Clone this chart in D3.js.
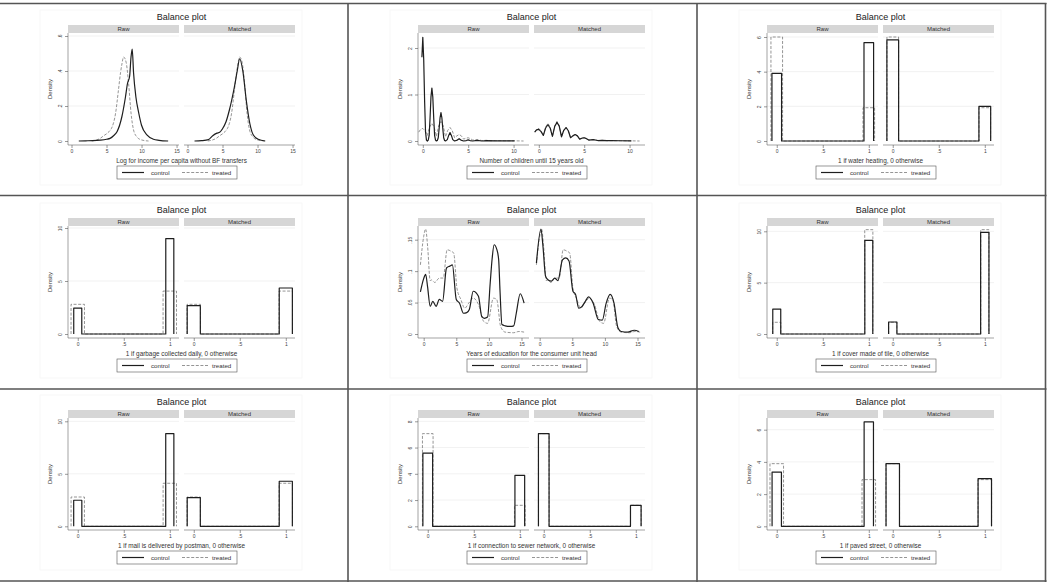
<!DOCTYPE html>
<html><head><meta charset="utf-8">
<script src="https://cdn.jsdelivr.net/npm/d3@7"></script>
<style>html,body{margin:0;padding:0;background:#fff}svg{display:block}text{font-family:"Liberation Sans",Arial,sans-serif}</style>
</head><body><svg id="c" width="1050" height="582"></svg>
<script>
// ---------------- DATA ----------------
const chartTitle = "Balance plot";
const facetNames = ["Raw", "Matched"];
const seriesNames = ["control", "treated"];
const xTitles = [
  "Log for income per capita without BF transfers",
  "Number of children until 15 years old",
  "1 if water heating, 0 otherwise",
  "1 if garbage collected daily, 0 otherwise",
  "Years of education for the consumer unit head",
  "1 if cover made of tile, 0 otherwise",
  "1 if mail is delivered by postman, 0 otherwise",
  "1 if connection to sewer network, 0 otherwise",
  "1 if paved street, 0 otherwise"
];
// tick values
const incomeXTicks = [0, 5, 10, 15];
const incomeYTicks = [0, 0.2, 0.4, 0.6];
const childrenXTicks = [0, 5, 10];
const childrenYTicks = [0, 1, 2];
const eduXTicks = [0, 5, 10, 15];
const eduYTicks = [0, 0.05, 0.1, 0.15];
const binaryXTicks = [0, 0.5, 1];
const waterYTicks = [0, 2, 4, 6];
const garbageYTicks = [0, 5, 10];
const tileYTicks = [0, 5, 10];
const mailYTicks = [0, 5, 10];
const sewerYTicks = [0, 2, 4, 6, 8];
const pavedYTicks = [0, 2, 4, 6];

// kernel densities [x, density]
const incomeControlRaw = [[1.04,0],[2,0.001],[3,0.002],[4.1,0.005],[5,0.01],[5.5,0.015],[6,0.03],[6.5,0.053],[7.2,0.14],[7.7,0.25],[8.0,0.33],[8.3,0.37],[8.5,0.48],[8.67,0.525],[8.86,0.39],[9.2,0.25],[9.6,0.16],[10,0.09],[10.8,0.034],[11.7,0.01],[12.5,0.004],[13.8,0]];
const incomeControlMatched = [[1.0,0],[2,0.002],[3,0.008],[3.6,0.03],[4.2,0.045],[4.6,0.05],[5.0,0.07],[5.5,0.11],[6.0,0.18],[6.7,0.31],[7.1,0.4],[7.45,0.47],[7.9,0.4],[8.4,0.23],[8.9,0.1],[9.4,0.034],[10.1,0.01],[11.1,0]];
const incomeTreated = [[2.9,0],[3.5,0.005],[4.1,0.015],[4.6,0.03],[5.1,0.044],[5.5,0.06],[5.8,0.08],[6.3,0.16],[6.7,0.29],[7.0,0.39],[7.2,0.44],[7.44,0.48],[7.8,0.45],[8.15,0.33],[8.5,0.16],[8.86,0.063],[9.3,0.025],[10,0.006],[11,0]];

const childrenControlRaw = [[-0.1,1.8],[0.0,2.23],[0.1,1.75],[0.2,0.85],[0.3,0.2],[0.4,0.02],[0.5,0.0],[0.6,0.02],[0.7,0.12],[0.8,0.5],[0.9,0.95],[1.0,1.14],[1.1,0.95],[1.2,0.5],[1.3,0.12],[1.4,0.02],[1.5,0.0],[1.6,0.01],[1.7,0.07],[1.8,0.27],[1.9,0.5],[2.0,0.61],[2.1,0.5],[2.2,0.27],[2.3,0.07],[2.4,0.01],[2.5,0.0],[2.7,0.03],[2.85,0.12],[3.0,0.18],[3.15,0.12],[3.3,0.03],[3.5,0.0],[3.8,0.02],[4.0,0.05],[4.2,0.02],[4.5,0.0],[4.8,0.01],[5.0,0.025],[5.2,0.01],[5.5,0.0],[6.0,0.012],[6.5,0.0],[7.0,0.008],[8.0,0.004],[9.0,0.003],[10.1,0.002]];
const childrenControlMatched = [[-0.45,0.19],[-0.25,0.24],[0.0,0.25],[0.25,0.2],[0.5,0.12],[0.75,0.28],[1.0,0.35],[1.25,0.28],[1.5,0.1],[1.75,0.31],[2.0,0.4],[2.25,0.32],[2.5,0.09],[2.75,0.23],[3.0,0.29],[3.25,0.22],[3.5,0.07],[3.75,0.11],[4.0,0.14],[4.25,0.11],[4.5,0.04],[4.75,0.06],[5.0,0.07],[5.25,0.05],[5.5,0.02],[6.0,0.03],[6.5,0.01],[7.0,0.015],[7.5,0.006],[8.0,0.008],[9.0,0.005],[10.2,0.003]];
const childrenTreated = [[-0.45,0.19],[-0.25,0.25],[0.0,0.27],[0.25,0.22],[0.5,0.12],[0.75,0.3],[1.0,0.38],[1.25,0.3],[1.5,0.1],[1.75,0.33],[2.0,0.42],[2.25,0.33],[2.5,0.09],[2.75,0.23],[3.0,0.29],[3.25,0.22],[3.5,0.07],[3.75,0.11],[4.0,0.14],[4.25,0.11],[4.5,0.04],[4.75,0.06],[5.0,0.07],[5.25,0.05],[5.5,0.02],[6.0,0.03],[6.5,0.01],[7.0,0.015],[7.5,0.006],[8.0,0.008],[9.0,0.005],[10.0,0.004],[11.1,0.0]];

const eduControlRaw = [[-0.5,0.067],[0.0,0.088],[0.3,0.095],[0.6,0.075],[1.0,0.044],[1.4,0.052],[1.9,0.044],[2.4,0.055],[2.9,0.052],[3.5,0.105],[4.0,0.108],[4.4,0.11],[5.0,0.055],[5.5,0.049],[6.1,0.033],[6.6,0.034],[7.0,0.039],[7.6,0.068],[8.4,0.06],[8.9,0.028],[9.3,0.025],[9.8,0.027],[10.2,0.081],[10.5,0.12],[10.8,0.142],[11.2,0.135],[11.5,0.118],[11.7,0.07],[12.0,0.015],[12.5,0.013],[13.3,0.012],[13.8,0.013],[14.2,0.033],[14.8,0.064],[15.4,0.049]];
const eduControlMatched = [[-0.5,0.113],[0.2,0.167],[0.5,0.14],[0.9,0.092],[1.3,0.086],[1.8,0.084],[2.3,0.089],[2.8,0.085],[3.5,0.118],[4.0,0.121],[4.5,0.116],[5.1,0.068],[5.5,0.063],[6.0,0.041],[6.5,0.044],[7.0,0.052],[7.5,0.059],[8.2,0.049],[9.0,0.023],[9.6,0.022],[10.2,0.049],[10.8,0.063],[11.4,0.049],[12.0,0.01],[12.5,0.004],[13.5,0.003],[14.5,0.006],[15.2,0.004]];
const eduTreated = [[-0.5,0.11],[0.0,0.155],[0.3,0.167],[0.6,0.14],[1.0,0.085],[1.2,0.086],[1.7,0.082],[2.4,0.089],[3.0,0.089],[3.6,0.134],[4.3,0.131],[4.6,0.129],[5.1,0.073],[5.7,0.055],[6.3,0.041],[6.9,0.049],[7.6,0.057],[8.4,0.047],[9.2,0.02],[9.8,0.017],[10.7,0.057],[11.2,0.055],[11.8,0.012],[12.5,0.003],[13.8,0.002],[14.6,0.004],[15.4,0.003]];

// histogram densities of binary variables: [density at 0, density at 1]
const waterControlRaw = [3.9, 5.67],   waterControlMatched = [5.83, 2.0],  waterTreated = [6.0, 1.92];
const garbageControlRaw = [2.45, 9.0], garbageControlMatched = [2.67, 4.34], garbageTreated = [2.8, 4.05];
const tileControlRaw = [2.43, 9.12],   tileControlMatched = [1.17, 9.9],  tileTreated = [1.14, 10.16];
const mailControlRaw = [2.48, 8.83],   mailControlMatched = [2.73, 4.29], mailTreated = [2.79, 4.1];
const sewerControlRaw = [5.58, 3.88],  sewerControlMatched = [7.06, 1.6], sewerTreated = [7.06, 1.6];
const pavedControlRaw = [3.37, 6.48],  pavedControlMatched = [3.89, 2.96], pavedTreated = [3.89, 2.9];

// ---------------- LAYOUT ----------------
const colX = [0, 350, 699];
const rowY = [0, 193, 385];
const FACET_X = [[68, 179], [184, 295]];
const BIN_DOM = [-0.106, 1.1];
const panels = [
  {col:0,row:0,kind:"kde",xDomain:[-0.5,15.35],xTicks:incomeXTicks,yTicks:incomeYTicks,yZero:141,yTop:36,raw:[incomeControlRaw,incomeTreated],matched:[incomeControlMatched,incomeTreated],curve:d3.curveMonotoneX},
  {col:1,row:0,kind:"kde",xDomain:[-0.53,11.7],xTicks:childrenXTicks,yTicks:childrenYTicks,yZero:141,yTop:48,raw:[childrenControlRaw,childrenTreated],matched:[childrenControlMatched,childrenTreated],curve:d3.curveLinear},
  {col:2,row:0,kind:"bin",xDomain:BIN_DOM,xTicks:binaryXTicks,yTicks:waterYTicks,yZero:141,yTop:37,raw:[waterControlRaw,waterTreated],matched:[waterControlMatched,waterTreated]},
  {col:0,row:1,kind:"bin",xDomain:BIN_DOM,xTicks:binaryXTicks,yTicks:garbageYTicks,yZero:141,yTop:35,raw:[garbageControlRaw,garbageTreated],matched:[garbageControlMatched,garbageTreated]},
  {col:1,row:1,kind:"kde",xDomain:[-0.87,16.15],xTicks:eduXTicks,yTicks:eduYTicks,yZero:141,yTop:46.7,raw:[eduControlRaw,eduTreated],matched:[eduControlMatched,eduTreated],curve:d3.curveMonotoneX},
  {col:2,row:1,kind:"bin",xDomain:BIN_DOM,xTicks:binaryXTicks,yTicks:tileYTicks,yZero:141,yTop:38.3,raw:[tileControlRaw,tileTreated],matched:[tileControlMatched,tileTreated]},
  {col:0,row:2,kind:"bin",xDomain:BIN_DOM,xTicks:binaryXTicks,yTicks:mailYTicks,yZero:141.3,yTop:36.3,raw:[mailControlRaw,mailTreated],matched:[mailControlMatched,mailTreated]},
  {col:1,row:2,kind:"bin",xDomain:BIN_DOM,xTicks:binaryXTicks,yTicks:sewerYTicks,yZero:141.3,yTop:36.3,raw:[sewerControlRaw,sewerTreated],matched:[sewerControlMatched,sewerTreated]},
  {col:2,row:2,kind:"bin",xDomain:BIN_DOM,xTicks:binaryXTicks,yTicks:pavedYTicks,yZero:141.3,yTop:44.7,raw:[pavedControlRaw,pavedTreated],matched:[pavedControlMatched,pavedTreated]}
];
panels.forEach((p,i)=>p.xlab = xTitles[i]);

const fmt = d => d === 0 ? "0" : String(d).replace(/^0\./, ".");
const STYLE = [
  {stroke:"#1e1e1e", width:1.2, dash:null},
  {stroke:"#7a7a7a", width:0.8, dash:"3,1.6"}
];

const svg = d3.select("#c");
svg.append("rect").attr("width",1050).attr("height",582).attr("fill","#fff");

function binPoints(v) {
  const hw = 0.5 / (v[0] + v[1]);
  return [[-hw,0],[-hw,v[0]],[hw,v[0]],[hw,0],[1-hw,0],[1-hw,v[1]],[1+hw,v[1]],[1+hw,0]];
}

function drawPanel(p) {
  const g = svg.append("g").attr("transform", `translate(${colX[p.col]},${rowY[p.row]})`);
  g.append("rect").attr("x",40).attr("y",10).attr("width",262).attr("height",175)
    .attr("fill","none").attr("stroke","#f6f6f6").attr("stroke-width",0.8);
  g.append("text").attr("x",181.5).attr("y",20.3).attr("text-anchor","middle")
    .attr("font-size",9).attr("fill","#222").text(chartTitle);
  const yTopVal = p.yTicks[p.yTicks.length - 1];
  const y = d3.scaleLinear().domain([0, yTopVal]).range([p.yZero, p.yTop]);

  [p.raw, p.matched].forEach((series, i) => {
    const [fx0, fx1] = FACET_X[i];
    const x = d3.scaleLinear().domain(p.xDomain).range([fx0, fx1]);
    g.append("rect").attr("x",fx0).attr("y",25).attr("width",fx1-fx0).attr("height",8).attr("fill","#d6d6d6");
    g.append("text").attr("x",(fx0+fx1)/2).attr("y",31.1).attr("text-anchor","middle")
      .attr("font-size",6).attr("fill","#333").text(facetNames[i]);
    g.append("g").selectAll("line").data(p.yTicks.filter(t => t !== 0)).join("line")
      .attr("x1",fx0).attr("x2",fx1).attr("y1",d=>y(d)).attr("y2",d=>y(d))
      .attr("stroke","#e8e8e8").attr("stroke-width",0.6);
    const ax = g.append("g").attr("transform","translate(0,145)")
      .call(d3.axisBottom(x).tickValues(p.xTicks).tickFormat(fmt).tickSize(3).tickSizeOuter(0).tickPadding(1));
    ax.select(".domain").attr("d", `M${fx0},0H${fx1}`).attr("stroke","#666").attr("stroke-width",0.6);
    ax.selectAll(".tick line").attr("stroke","#555").attr("stroke-width",0.6);
    ax.selectAll(".tick text").attr("font-size",5).attr("fill","#444").attr("font-family","Liberation Sans, Arial, sans-serif");
    const line = d3.line().x(d=>x(d[0])).y(d=>y(d[1])).curve(p.kind === "kde" ? p.curve : d3.curveLinear);
    [1, 0].forEach(si => {
      const pts = p.kind === "kde" ? series[si] : binPoints(series[si]);
      g.append("path").datum(pts).attr("d", line).attr("fill","none")
        .attr("stroke", STYLE[si].stroke).attr("stroke-width", STYLE[si].width)
        .attr("stroke-dasharray", STYLE[si].dash).attr("stroke-linejoin","round");
    });
  });

  const ya = g.append("g").attr("transform",`translate(${FACET_X[0][0]},0)`)
    .call(d3.axisLeft(y).tickValues(p.yTicks).tickFormat(fmt).tickSize(3).tickSizeOuter(0).tickPadding(1));
  ya.select(".domain").attr("d","M0,33V145").attr("stroke","#666").attr("stroke-width",0.6);
  ya.selectAll(".tick line").attr("stroke","#555").attr("stroke-width",0.6);
  ya.selectAll(".tick text").attr("x",null).attr("dy",null)
    .attr("transform","translate(-5.6,0) rotate(-90)").attr("text-anchor","middle")
    .attr("font-size",5).attr("fill","#444").attr("font-family","Liberation Sans, Arial, sans-serif");
  g.append("text").attr("transform","translate(52.2,89) rotate(-90)").attr("text-anchor","middle")
    .attr("font-size",6).attr("fill","#333").text("Density");

  g.append("text").attr("x",181.5).attr("y",163.4).attr("text-anchor","middle")
    .attr("font-size",6.4).attr("fill","#333").text(p.xlab);

  const lg = g.append("g");
  lg.append("rect").attr("x",117).attr("y",166).attr("width",120).attr("height",13)
    .attr("fill","#fff").attr("stroke","#555").attr("stroke-width",0.6);
  const lx = [[122,144,151],[182,208,212]];
  seriesNames.forEach((s, i) => {
    lg.append("line").attr("x1",lx[i][0]).attr("x2",lx[i][1]).attr("y1",172.5).attr("y2",172.5)
      .attr("stroke",STYLE[i].stroke).attr("stroke-width",STYLE[i].width).attr("stroke-dasharray",STYLE[i].dash);
    lg.append("text").attr("x",lx[i][2]).attr("y",174.8).attr("font-size",6.2).attr("fill","#333").text(s);
  });
}

panels.forEach(drawPanel);

const vBorders = [348, 697, 1045.5];
const hBorders = [3.5, 195.5, 389, 581];
svg.append("g").selectAll("line").data(vBorders).join("line")
  .attr("x1",d=>d).attr("x2",d=>d).attr("y1",3).attr("y2",582)
  .attr("stroke","#555").attr("stroke-width",1.6);
svg.append("g").selectAll("line").data(hBorders).join("line")
  .attr("x1",0).attr("x2",1046.5).attr("y1",d=>d).attr("y2",d=>d)
  .attr("stroke","#555").attr("stroke-width",1.6);
</script>
</body></html>
